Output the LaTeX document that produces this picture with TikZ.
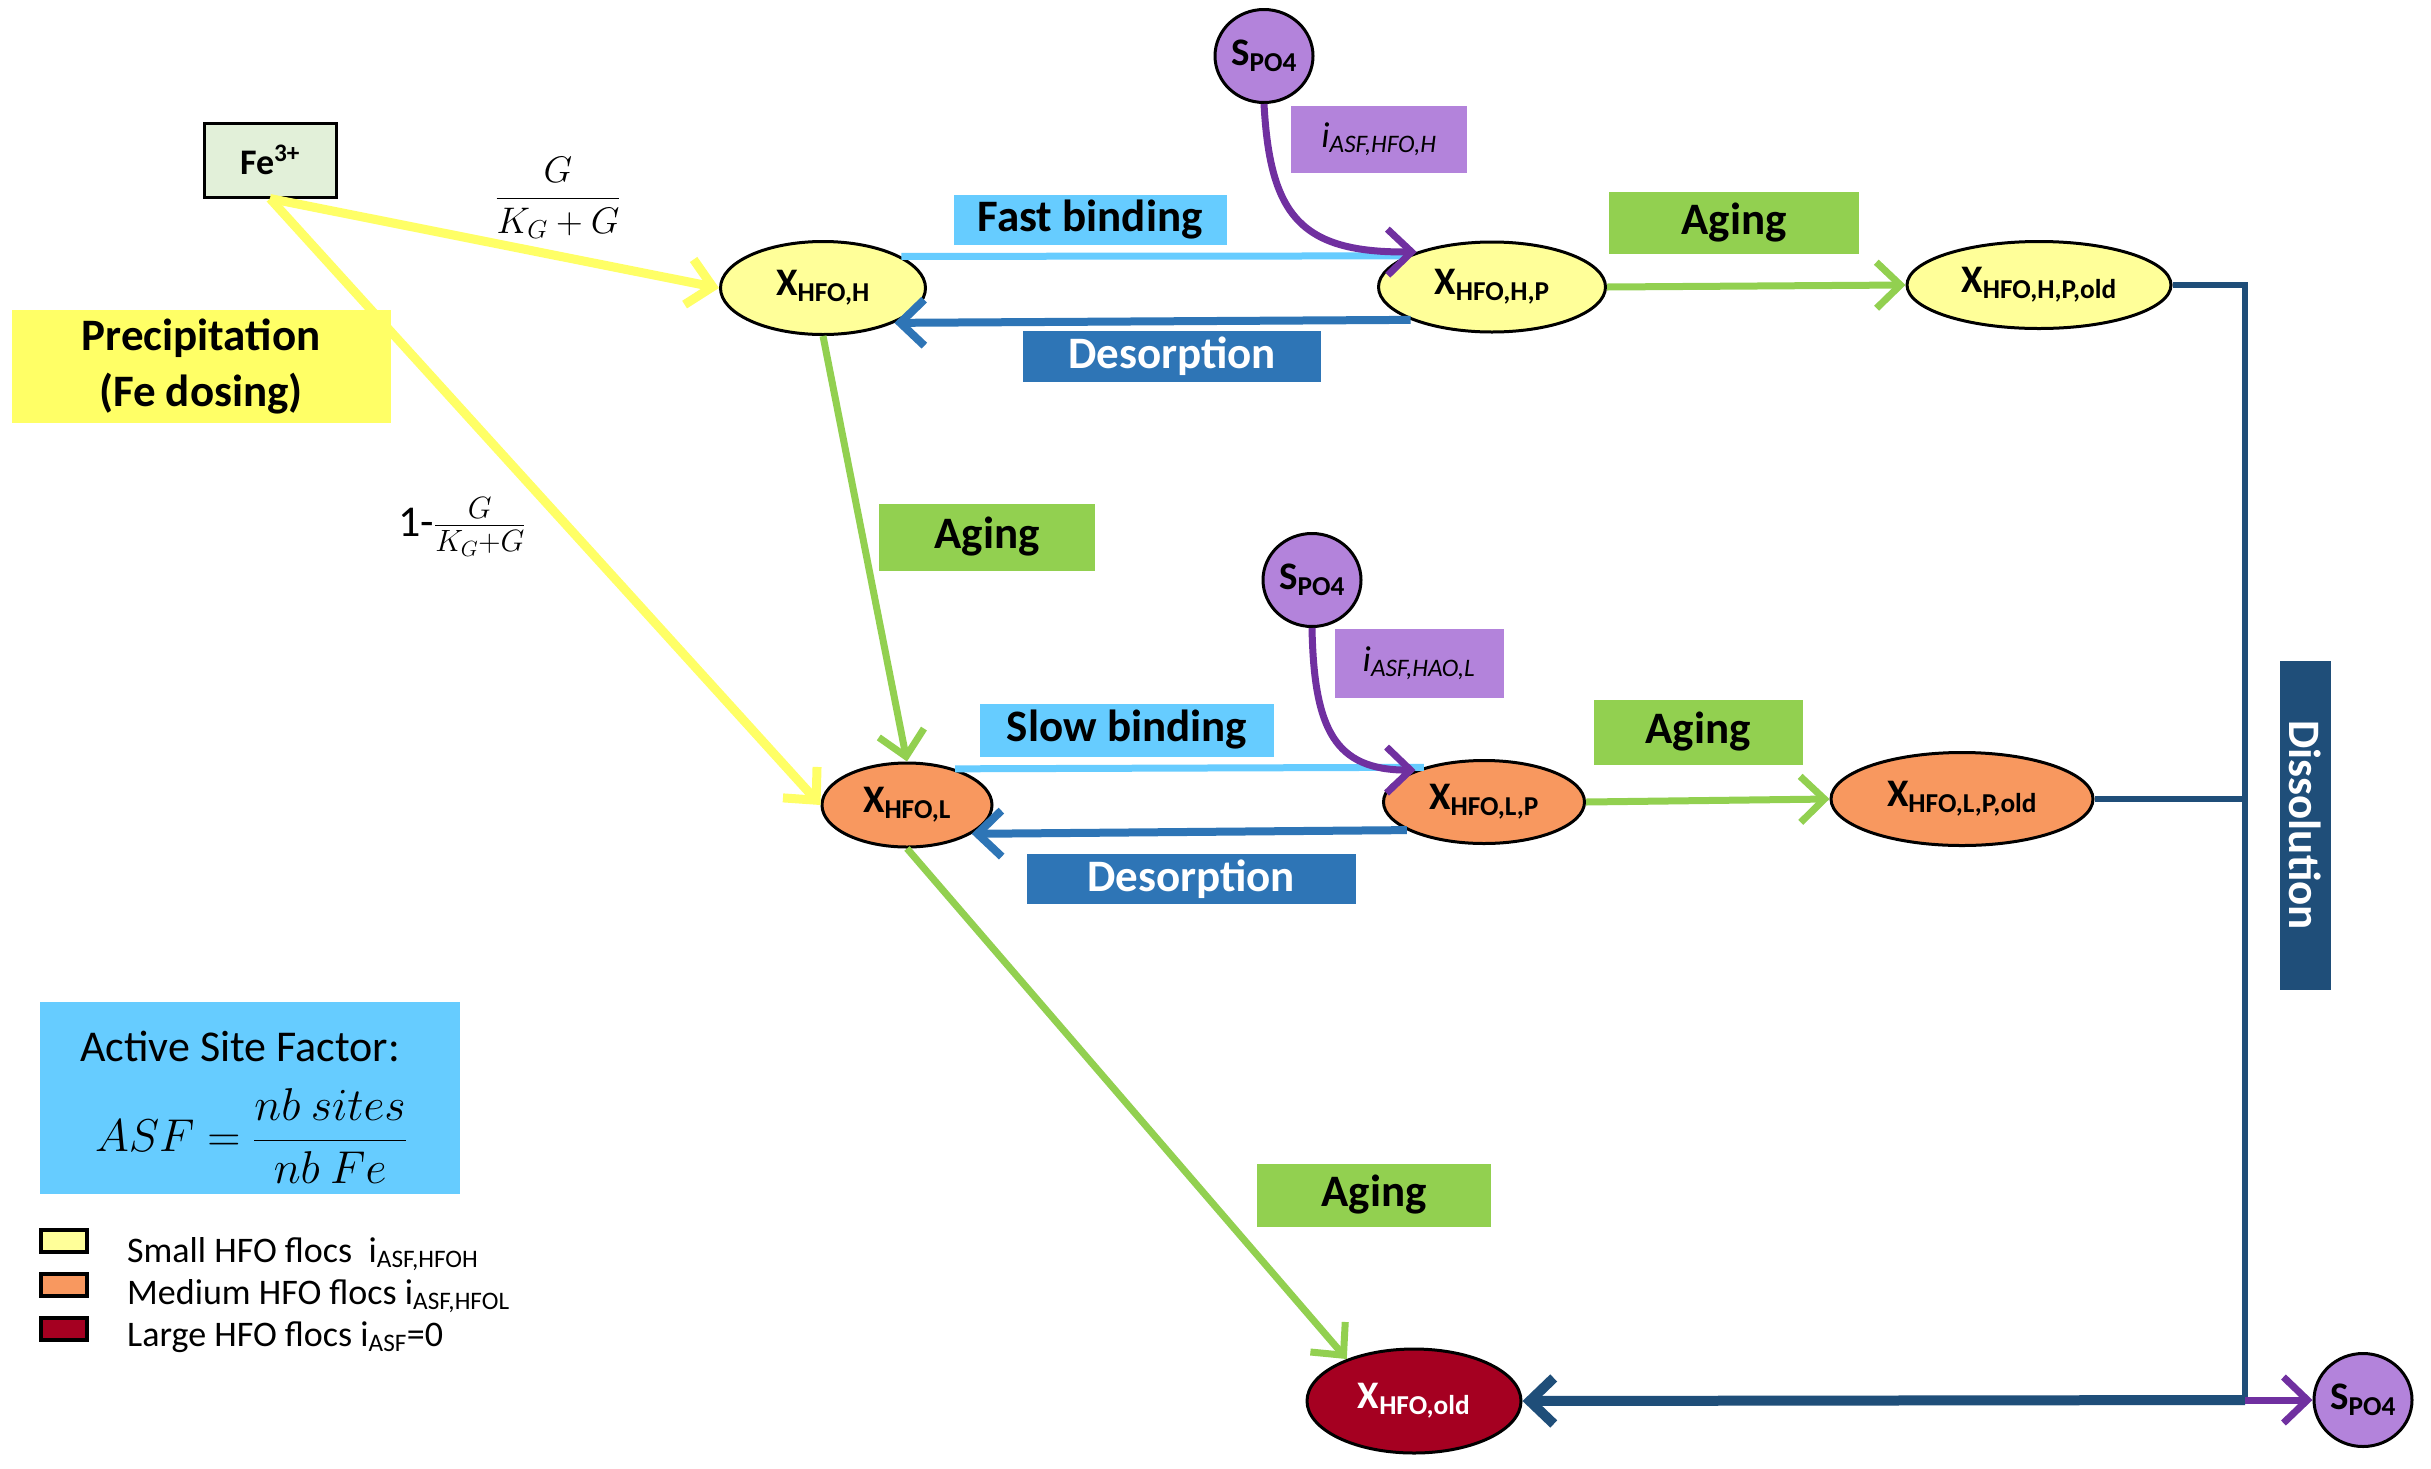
\IfFileExists{fix-cm.sty}{\RequirePackage{fix-cm}}{}
\documentclass[tikz,border=0pt]{standalone}
\usepackage{fontspec}
\setmainfont{Carlito}
\usetikzlibrary{positioning, arrows.meta, shapes.geometric}

\definecolor{smallY}{HTML}{FFFF99}
\definecolor{medO}{HTML}{F8985F}
\definecolor{largeR}{HTML}{A50021}
\definecolor{feG}{HTML}{E2F0D9}
\definecolor{precY}{HTML}{FFFF66}
\definecolor{agingG}{HTML}{92D050}
\definecolor{bindB}{HTML}{66CCFF}
\definecolor{desB}{HTML}{2E75B6}
\definecolor{poP}{HTML}{B383DB}
\definecolor{poArr}{HTML}{7030A0}
\definecolor{dissB}{HTML}{1F4E79}

\begin{document}
\begin{tikzpicture}[x=1pt, y=-1pt, >={Straight Barb[length=24pt, width=46pt]},
  pool/.style={ellipse, draw, line width=3pt, inner sep=0pt,
               font=\fontsize{39}{44}\selectfont\bfseries},
  po/.style={pool, fill=poP, minimum width=98pt, minimum height=93pt},
  tag/.style={inner sep=0pt, font=\fontsize{45}{56}\selectfont\bfseries},
  ibox/.style={inner sep=0pt, fill=poP, font=\fontsize{36}{42}\selectfont\itshape},
  key/.style={draw, line width=4pt, minimum width=46pt, minimum height=22pt, inner sep=0pt},
  keytxt/.style={anchor=base west, inner sep=0pt, font=\fontsize{36}{42}\selectfont},
  flow/.style={line width=7pt}]
  \useasboundingbox (0,0) rectangle (2431,1468);
  \fill[white] (0,0) rectangle (2431,1468);
  % iron source
  \node[draw, line width=3pt, fill=feG, minimum width=132pt, minimum height=74pt,
        font=\fontsize{36}{42}\selectfont\bfseries] (fe) at (270,160) {Fe\textsuperscript{3+}};
  \node[tag, fill=precY, align=center, minimum width=379pt, minimum height=113pt]
        (prec) at (201,366) {Precipitation\\(Fe dosing)};
  \node[font=\fontsize{37}{44}\selectfont] (rateH) at (558,198) {$\displaystyle\frac{G}{K_G+G}$};
  \node[font=\fontsize{44}{50}\selectfont] (rateL) at (462,527) {1-$\frac{G}{K_G+G}$};
  % small flocs (top row)
  \node[pool, fill=smallY, minimum width=205pt, minimum height=93pt] (hfoH) at (823,288) {X\textsubscript{HFO,H}};
  \node[pool, fill=smallY, minimum width=227pt, minimum height=90pt] (hfoHP) at (1492,287) {X\textsubscript{HFO,H,P}};
  \node[pool, fill=smallY, minimum width=264pt, minimum height=87pt] (hfoHPold) at (2039,285) {X\textsubscript{HFO,H,P,old}};
  % medium flocs (middle row)
  \node[pool, fill=medO, minimum width=170pt, minimum height=84pt] (hfoL) at (907,805) {X\textsubscript{HFO,L}};
  \node[pool, fill=medO, minimum width=201pt, minimum height=83pt] (hfoLP) at (1484,802) {X\textsubscript{HFO,L,P}};
  \node[pool, fill=medO, minimum width=262pt, minimum height=93pt] (hfoLPold) at (1962,799) {X\textsubscript{HFO,L,P,old}};
  % large flocs (bottom)
  \node[pool, fill=largeR, text=white, minimum width=214pt, minimum height=104pt] (hfoOld) at (1414,1401) {X\textsubscript{HFO,old}};
  % phosphate
  \node[po] (poH) at (1264,56) {S\textsubscript{PO4}};
  \node[po] (poL) at (1312,580) {S\textsubscript{PO4}};
  \node[po] (poOut) at (2363,1400) {S\textsubscript{PO4}};
  \node[ibox, minimum width=176pt, minimum height=67pt] (iH) at (1379,139) {i\textsubscript{ASF,HFO,H}};
  \node[ibox, minimum width=169pt, minimum height=69pt] (iL) at (1419,663) {i\textsubscript{ASF,HAO,L}};
  % process labels
  \node[tag, fill=bindB, minimum width=273pt, minimum height=50pt] (fastb) at (1090,220) {Fast binding};
  \node[tag, fill=desB, text=white, minimum width=298pt, minimum height=51pt] (desH) at (1172,356) {Desorption};
  \node[tag, fill=agingG, minimum width=250pt, minimum height=62pt] (ageH) at (1734,223) {Aging};
  \node[tag, fill=agingG, minimum width=216pt, minimum height=67pt] (ageHL) at (987,537) {Aging};
  \node[tag, fill=bindB, minimum width=294pt, minimum height=53pt] (slowb) at (1127,730) {Slow binding};
  \node[tag, fill=agingG, minimum width=209pt, minimum height=65pt] (ageL) at (1698,732) {Aging};
  \node[tag, fill=desB, text=white, minimum width=329pt, minimum height=50pt] (desL) at (1191,879) {Desorption};
  \node[tag, fill=agingG, minimum width=234pt, minimum height=63pt] (ageOld) at (1374,1195) {Aging};
  \node[tag, fill=dissB, text=white, rotate=-90, minimum width=329pt, minimum height=51pt] (diss) at (2305,825) {Dissolution};
  % active site factor and legend
  \node[fill=bindB, minimum width=420pt, minimum height=192pt] (asf) at (250,1098) {};
  \node[font=\fontsize{44}{52}\selectfont] (asfT) at (240,1046) {Active Site Factor:};
  \node[inner sep=0pt, font=\fontsize{46}{54}\selectfont] (asfEq) at (251,1136) {$\displaystyle ASF=\frac{nb\ sites}{nb\ Fe}$};
  \node[key, fill=smallY] (keyS) at (64,1241) {};
  \node[key, fill=medO, below=18pt of keyS] (keyM) {};
  \node[key, fill=largeR, below=18pt of keyM] (keyL) {};
  \node[keytxt] (keySt) at (127,1262) {Small HFO flocs\ \ i\textsubscript{ASF,HFOH}};
  \node[keytxt] (keyMt) at (127,1304) {Medium HFO flocs i\textsubscript{ASF,HFOL}};
  \node[keytxt] (keyLt) at (127,1346) {Large HFO flocs i\textsubscript{ASF}=0};
  % edges
  \draw[->, precY, line width=9pt] (fe.south) -- (hfoH.west);
  \draw[->, precY, line width=9pt] (fe.south) -- (hfoL.west);
  \draw[->, flow, agingG] (hfoH.south) -- (hfoL.north);
  \draw[->, flow, agingG] (hfoL.south) -- (hfoOld.148);
  \draw[flow, bindB] (hfoH.22) -- (hfoHP.160);
  \draw[->, line width=8pt, desB] (hfoHP.-158) -- (hfoH.-26);
  \draw[->, flow, poArr] (poH.south) .. controls (1270,215) and (1300,253) .. (hfoHP.155);
  \draw[->, flow, agingG] (hfoHP.east) -- (hfoHPold.west);
  \draw[flow, bindB] (hfoL.37) -- (hfoLP.150);
  \draw[->, line width=8pt, desB] (hfoLP.-160) -- (hfoL.-24);
  \draw[->, flow, poArr] (poL.south) .. controls (1314,730) and (1335,770) .. (hfoLP.155);
  \draw[->, flow, agingG] (hfoLP.east) -- (hfoLPold.west);
  % dissolution
  \coordinate (jH) at (2245,285);
  \coordinate (jL) at (2245,799);
  \coordinate (jB) at (2245,1400);
  \draw[dissB, line width=6pt] (hfoHPold.east) -- (jH) -- (jB);
  \draw[dissB, line width=6pt] (hfoLPold.east) -- (jL);
  \draw[->, dissB, line width=10pt] (jB) -- (hfoOld.east);
  \draw[->, flow, poArr] (jB) -- (poOut.west);
\end{tikzpicture}
\end{document}
